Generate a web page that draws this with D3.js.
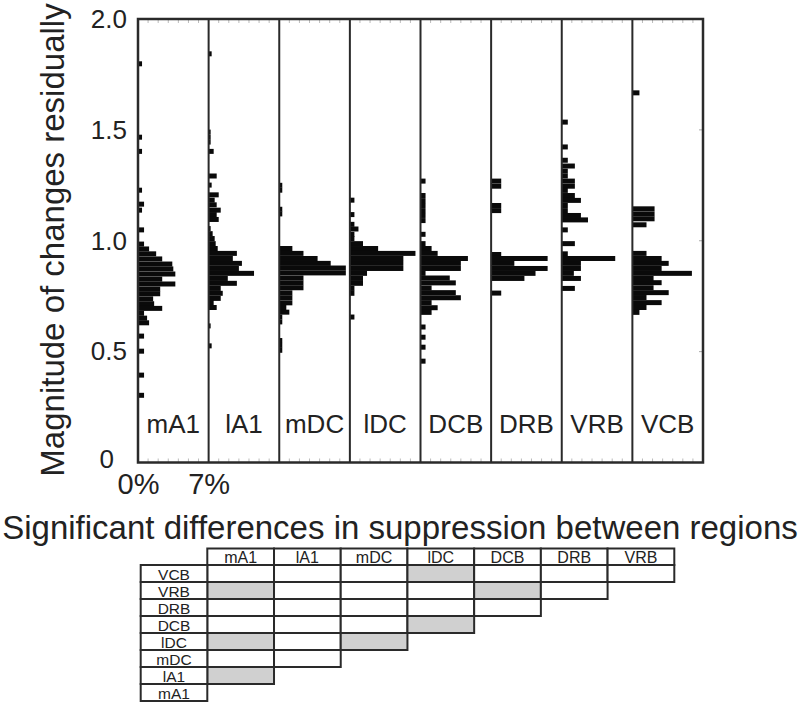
<!DOCTYPE html>
<html>
<head>
<meta charset="utf-8">
<script src="https://cdn.jsdelivr.net/npm/d3@7"></script>
<style>
  html, body { margin: 0; padding: 0; background: #fff; }
  svg { display: block; }
  text { font-family: "Liberation Sans", Arial, Helvetica, sans-serif; fill: #222; }
</style>
</head>
<body>
<svg id="chart" width="800" height="709"></svg>
<script>
// ---------- DATA ----------
const regions = ["mA1", "lA1", "mDC", "lDC", "DCB", "DRB", "VRB", "VCB"];
const yTicks = [0, 0.5, 1.0, 1.5, 2.0];
const xTickLabels = [0, 7];
const binWidth = 0.0225;

// [bin centre (magnitude), percentage of cells]
const mA1 = [[1.798,0.4],[1.467,0.4],[1.403,0.4],[1.228,0.4],[1.165,0.6],[1.138,0.4],[1.049,0.6],
  [0.985,0.6],[0.963,1.1],[0.941,1.8],[0.918,2.4],[0.895,3.4],[0.873,3.5],[0.850,3.7],[0.827,2.4],
  [0.805,3.7],[0.782,2.2],[0.761,2.2],[0.738,1.5],[0.716,1.6],[0.695,2.4],[0.673,0.6],[0.651,0.9],
  [0.630,1.1],[0.570,0.6],[0.502,0.6],[0.394,0.6],[0.303,0.6]];
const lA1 = [[1.843,0.3],[1.490,0.2],[1.467,0.2],[1.445,0.2],[1.403,0.5],[1.292,0.8],[1.251,0.3],
  [1.207,1.0],[1.183,0.6],[1.162,0.8],[1.138,1.2],[1.118,0.8],[1.096,1.0],[1.055,0.2],[1.032,0.4],
  [1.010,0.6],[0.987,0.7],[0.965,0.9],[0.943,2.8],[0.920,2.4],[0.898,3.3],[0.875,3.0],[0.853,4.5],
  [0.830,1.9],[0.808,2.8],[0.785,1.2],[0.763,1.4],[0.740,1.2],[0.721,0.5],[0.699,0.8],[0.616,0.2],[0.526,0.3]];
const mDC = [[1.250,0.3],[1.228,0.3],[1.142,0.3],[1.121,0.3],[0.965,1.3],[0.943,2.4],[0.920,3.8],
  [0.898,5.1],[0.877,6.6],[0.855,6.6],[0.832,2.4],[0.810,2.4],[0.788,2.4],[0.765,1.3],[0.743,1.3],
  [0.720,1.3],[0.699,0.7],[0.678,1.0],[0.656,0.3],[0.634,0.3],[0.550,0.3],[0.528,0.3],[0.506,0.3]];
const lDC = [[1.183,0.45],[1.118,0.45],[1.074,0.45],[1.053,0.85],[1.029,0.45],[1.010,0.45],[0.987,1.3],
  [0.965,2.8],[0.943,6.5],[0.920,5.3],[0.898,5.3],[0.875,5.3],[0.853,1.7],[0.830,1.3],[0.808,1.3],
  [0.785,0.45],[0.763,0.45],[0.656,0.45]];
const DCB = [[1.269,0.5],[1.204,0.5],[1.181,0.5],[1.159,0.5],[1.136,0.5],[1.114,0.5],[1.091,0.5],
  [1.029,0.5],[0.987,0.5],[0.965,1.1],[0.943,1.7],[0.920,4.7],[0.898,4.0],[0.875,4.0],[0.853,0.5],
  [0.832,2.9],[0.810,3.5],[0.787,1.1],[0.766,3.5],[0.743,4.0],[0.721,1.1],[0.698,1.7],[0.677,1.1],
  [0.611,0.5],[0.565,0.5],[0.520,0.5],[0.457,0.5]];
const DRB = [[1.269,1.0],[1.246,1.0],[1.159,1.0],[1.136,1.0],[0.938,1.0],[0.920,5.6],[0.898,2.3],
  [0.875,5.6],[0.853,4.4],[0.830,3.3],[0.764,1.0]];
const VRB = [[1.535,0.6],[1.423,0.6],[1.363,0.6],[1.337,1.3],[1.314,0.6],[1.292,0.6],[1.269,1.3],
  [1.246,1.3],[1.227,0.6],[1.204,1.3],[1.182,1.9],[1.159,0.6],[1.136,0.6],[1.114,1.9],[1.094,2.6],
  [1.049,0.6],[0.987,1.3],[0.941,0.6],[0.920,5.3],[0.898,1.9],[0.875,1.9],[0.853,1.2],[0.830,1.9],[0.785,1.3]];
const VCB = [[1.667,0.7],[1.144,2.2],[1.121,2.2],[1.099,2.2],[1.072,1.4],[0.943,1.4],[0.920,2.9],
  [0.898,3.6],[0.875,2.9],[0.853,5.9],[0.830,2.1],[0.811,2.9],[0.788,2.1],[0.766,3.6],[0.744,1.4],
  [0.721,2.9],[0.699,1.4],[0.677,0.7]];
const histograms = { mA1, lA1, mDC, lDC, DCB, DRB, VRB, VCB };

const tableRows = ["VCB", "VRB", "DRB", "DCB", "lDC", "mDC", "lA1", "mA1"];
const tableCols = ["mA1", "lA1", "mDC", "lDC", "DCB", "DRB", "VRB"];
const significantPairs = [["VCB","lDC"],["VRB","mA1"],["VRB","DCB"],["DCB","lDC"],["lDC","mA1"],["lDC","mDC"],["lA1","mA1"]];
const tableTitle = "Significant differences in suppression between regions";
const yLabel = "Magnitude of changes residually";

// ---------- LAYOUT ----------
const svg = d3.select("#chart");
const plot = { left: 138, right: 703, top: 19, bottom: 462.5 };
const frameColor = "#2a2a2a";

const y = d3.scaleLinear().domain([0, 2]).range([plot.bottom, plot.top]);
const panel = d3.scaleBand().domain(regions).range([plot.left, plot.right]).padding(0);
const xPct = d3.scaleLinear().domain([0, 7]).range([0, panel.bandwidth()]);

// bars
regions.forEach(r => {
  const g = svg.append("g").attr("transform", `translate(${panel(r)},0)`);
  g.selectAll("rect.bar").data(histograms[r]).join("rect")
    .attr("class", "bar")
    .attr("x", 0)
    .attr("y", d => y(d[0] + binWidth / 2))
    .attr("width", d => xPct(d[1]))
    .attr("height", d => y(d[0] - binWidth / 2) - y(d[0] + binWidth / 2))
    .attr("fill", "#0a0a0a");

  // minor ticks top and bottom
  const minor = d3.range(1, 7);
  g.selectAll("line.tt").data(minor).join("line")
    .attr("x1", d => xPct(d)).attr("x2", d => xPct(d))
    .attr("y1", plot.top).attr("y2", plot.top + 4)
    .attr("stroke", "#bbb").attr("stroke-width", 1);
  g.selectAll("line.tb").data(minor).join("line")
    .attr("x1", d => xPct(d)).attr("x2", d => xPct(d))
    .attr("y1", plot.bottom - 4).attr("y2", plot.bottom)
    .attr("stroke", "#bbb").attr("stroke-width", 1);

  // panel label
  g.append("text")
    .attr("x", panel.bandwidth() / 2)
    .attr("y", 433)
    .attr("text-anchor", "middle")
    .attr("font-size", 26)
    .text(r);
});

// right-side inward ticks
svg.selectAll("line.rt").data([0.5, 1.0, 1.5]).join("line")
  .attr("x1", plot.right - 4).attr("x2", plot.right)
  .attr("y1", d => y(d)).attr("y2", d => y(d))
  .attr("stroke", "#aaa").attr("stroke-width", 1);

// dividers
svg.selectAll("line.div").data(regions.slice(1)).join("line")
  .attr("x1", d => panel(d)).attr("x2", d => panel(d))
  .attr("y1", plot.top).attr("y2", plot.bottom)
  .attr("stroke", frameColor).attr("stroke-width", 2);

// frame
svg.append("rect")
  .attr("x", plot.left).attr("y", plot.top)
  .attr("width", plot.right - plot.left).attr("height", plot.bottom - plot.top)
  .attr("fill", "none").attr("stroke", frameColor).attr("stroke-width", 2.5);

// y axis
const yAxis = svg.append("g")
  .attr("transform", `translate(${plot.left},0)`)
  .call(d3.axisLeft(y).tickValues(yTicks).tickSize(0).tickPadding(11)
    .tickFormat(d => d === 0 ? "0" : d3.format(".1f")(d)));
yAxis.select(".domain").remove();
yAxis.selectAll("text").attr("font-size", 26).attr("font-family", null).style("fill", "#222");
yAxis.selectAll(".tick").filter(d => d === 0).select("text").attr("dx", -13).attr("dy", "0.2em");

// x axis labels (first panel)
const xAxis = svg.append("g")
  .attr("transform", `translate(${panel(regions[0])},${plot.bottom})`)
  .call(d3.axisBottom(xPct).tickValues(xTickLabels).tickSize(0).tickPadding(11)
    .tickFormat(d => d + "%"));
xAxis.select(".domain").remove();
xAxis.selectAll("text").attr("font-size", 29).attr("font-family", null).style("fill", "#222");

// y label
svg.append("text")
  .attr("transform", "translate(64,240) rotate(-90)")
  .attr("text-anchor", "middle")
  .attr("font-size", 33)
  .text(yLabel);

// ---------- TABLE ----------
svg.append("text")
  .attr("x", 400).attr("y", 539)
  .attr("text-anchor", "middle")
  .attr("font-size", 33)
  .text(tableTitle);

const tblLeft = 140.7, colStart = 207.3, colEnd = 674.3;
const col = d3.scaleBand().domain(tableCols).range([colStart, colEnd]);
const row = d3.scaleBand().domain(tableRows).range([565, 701]);
const headerTop = 548.5;
const sig = new Set(significantPairs.map(p => p[0] + "|" + p[1]));

// header cells
const tg = svg.append("g");
tg.selectAll("rect.hdr").data(tableCols).join("rect")
  .attr("x", d => col(d)).attr("y", headerTop)
  .attr("width", col.bandwidth()).attr("height", row.range()[0] - headerTop)
  .attr("fill", "#fff").attr("stroke", frameColor).attr("stroke-width", 2);
tg.selectAll("text.hdr").data(tableCols).join("text")
  .attr("x", d => col(d) + col.bandwidth() / 2)
  .attr("y", row.range()[0] - 2.5)
  .attr("text-anchor", "middle").attr("font-size", 16)
  .text(d => d);

// body cells
const cells = [];
tableRows.forEach((r, i) => {
  tableCols.slice(0, tableCols.length - i).forEach(c => cells.push({ r, c, s: sig.has(r + "|" + c) }));
});
tg.selectAll("rect.cell").data(cells).join("rect")
  .attr("x", d => col(d.c)).attr("y", d => row(d.r))
  .attr("width", col.bandwidth()).attr("height", row.bandwidth())
  .attr("fill", d => d.s ? "#d0d0d0" : "#fff")
  .attr("stroke", frameColor).attr("stroke-width", 2);

// row label cells
tg.selectAll("rect.rl").data(tableRows).join("rect")
  .attr("x", tblLeft).attr("y", d => row(d))
  .attr("width", colStart - tblLeft).attr("height", row.bandwidth())
  .attr("fill", "#fff").attr("stroke", frameColor).attr("stroke-width", 2);
tg.selectAll("text.rl").data(tableRows).join("text")
  .attr("x", (tblLeft + colStart) / 2)
  .attr("y", d => row(d) + row.bandwidth() - 2)
  .attr("text-anchor", "middle").attr("font-size", 15.5)
  .text(d => d);
</script>
</body>
</html>
